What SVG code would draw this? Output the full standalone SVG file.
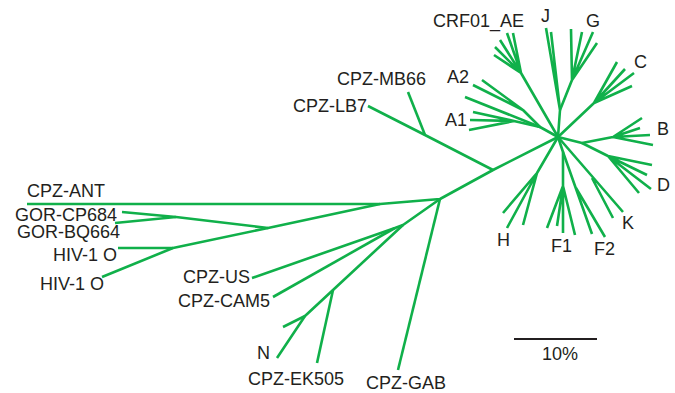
<svg xmlns="http://www.w3.org/2000/svg" width="675" height="393" viewBox="0 0 675 393">
<style>
.e{fill:none;stroke:#10b04a;stroke-width:2.6;stroke-linecap:butt;stroke-linejoin:round}
.t{font-family:"Liberation Sans",Arial,sans-serif;font-size:18px;fill:#231f20}
</style>
<rect width="675" height="393" fill="#fff"/>
<g id="connectors" class="e">
<path d="M558,137 L493,170 L440,199 L380,204 L27,204"/>
<path d="M493,170 L425,135 L368,106"/>
<path d="M425,135 L408,92"/>
<path d="M380,204 L268,228 L176,217 L122,212"/>
<path d="M176,217 L115,223"/>
<path d="M268,228 L173,248 L102,277"/>
<path d="M173,248 L118,248"/>
<path d="M440,199 L398,370"/>
<path d="M440,199 L403,225 L395,228 L252,278"/>
<path d="M395,228 L273,297"/>
<path d="M403,225 L333,290 L305,316 L277,358"/>
<path d="M305,316 L283,327"/>
<path d="M333,290 L317,363"/>
<path d="M558,137 L521,73 L494,55 M521,73 L495,47 M521,73 L500,40 M521,73 L507,33 M521,73 L513,33"/>
<path d="M558,137 L560,110 L546,28 M560,110 L551,32"/>
<path d="M560,110 L572,80 L571,29 M572,80 L582,32 M572,80 L593,32 M572,80 L597,43"/>
<path d="M558,137 L594,103 L617,62 M594,103 L625,69 M594,103 L634,73 M594,103 L632,86"/>
<path d="M558,137 L582,143 L613,137 L642,118 M613,137 L640,128 M613,137 L650,135 M613,137 L653,145"/>
<path d="M582,143 L608,156 L652,165 M608,156 L647,175 M608,156 L651,189 M608,156 L639,193"/>
<path d="M558,137 L540,127 L523,110 L482,80 M523,110 L473,85"/>
<path d="M540,127 L465,97"/>
<path d="M540,127 L514,121 L473,112 M514,121 L470,120 M514,121 L469,130"/>
<path d="M558,137 L537,173 L503,213 M537,173 L507,228 M537,173 L523,225"/>
<path d="M558,137 L563,152 L563,186 L547,228 M563,186 L557,226 M563,186 L563,233 M563,186 L575,235"/>
<path d="M563,152 L592,234 M576,188 L605,237"/>
<path d="M558,137 L623,212 M592,178 L613,218"/>
</g>
<g id="scale">
<line x1="514" y1="339" x2="597" y2="339" stroke="#231f20" stroke-width="2"/>
<text class="t" x="542" y="360">10%</text>
</g>
<g id="n-CRF01_AE"><text class="t" x="433" y="27">CRF01_AE</text></g>
<g id="n-J"><text class="t" x="541" y="22">J</text></g>
<g id="n-G"><text class="t" x="586" y="27">G</text></g>
<g id="n-C"><text class="t" x="634" y="68">C</text></g>
<g id="n-A2"><text class="t" x="447" y="83">A2</text></g>
<g id="n-A1"><text class="t" x="445" y="126">A1</text></g>
<g id="n-B"><text class="t" x="657" y="135">B</text></g>
<g id="n-D"><text class="t" x="657" y="191">D</text></g>
<g id="n-K"><text class="t" x="622" y="229">K</text></g>
<g id="n-F2"><text class="t" x="594" y="255">F2</text></g>
<g id="n-F1"><text class="t" x="551" y="252">F1</text></g>
<g id="n-H"><text class="t" x="497" y="246">H</text></g>
<g id="n-CPZ-MB66"><text class="t" x="337" y="85">CPZ-MB66</text></g>
<g id="n-CPZ-LB7"><text class="t" x="293" y="112">CPZ-LB7</text></g>
<g id="n-CPZ-ANT"><text class="t" x="27" y="197">CPZ-ANT</text></g>
<g id="n-GOR-CP684"><text class="t" x="15" y="221">GOR-CP684</text></g>
<g id="n-GOR-BQ664"><text class="t" x="17" y="238">GOR-BQ664</text></g>
<g id="n-HIV-1-O-a"><text class="t" x="53" y="261">HIV-1 O</text></g>
<g id="n-HIV-1-O-b"><text class="t" x="40" y="290">HIV-1 O</text></g>
<g id="n-CPZ-US"><text class="t" x="183" y="283">CPZ-US</text></g>
<g id="n-CPZ-CAM5"><text class="t" x="178" y="307">CPZ-CAM5</text></g>
<g id="n-N"><text class="t" x="257" y="359">N</text></g>
<g id="n-CPZ-EK505"><text class="t" x="248" y="385">CPZ-EK505</text></g>
<g id="n-CPZ-GAB"><text class="t" x="366" y="389">CPZ-GAB</text></g>
</svg>
